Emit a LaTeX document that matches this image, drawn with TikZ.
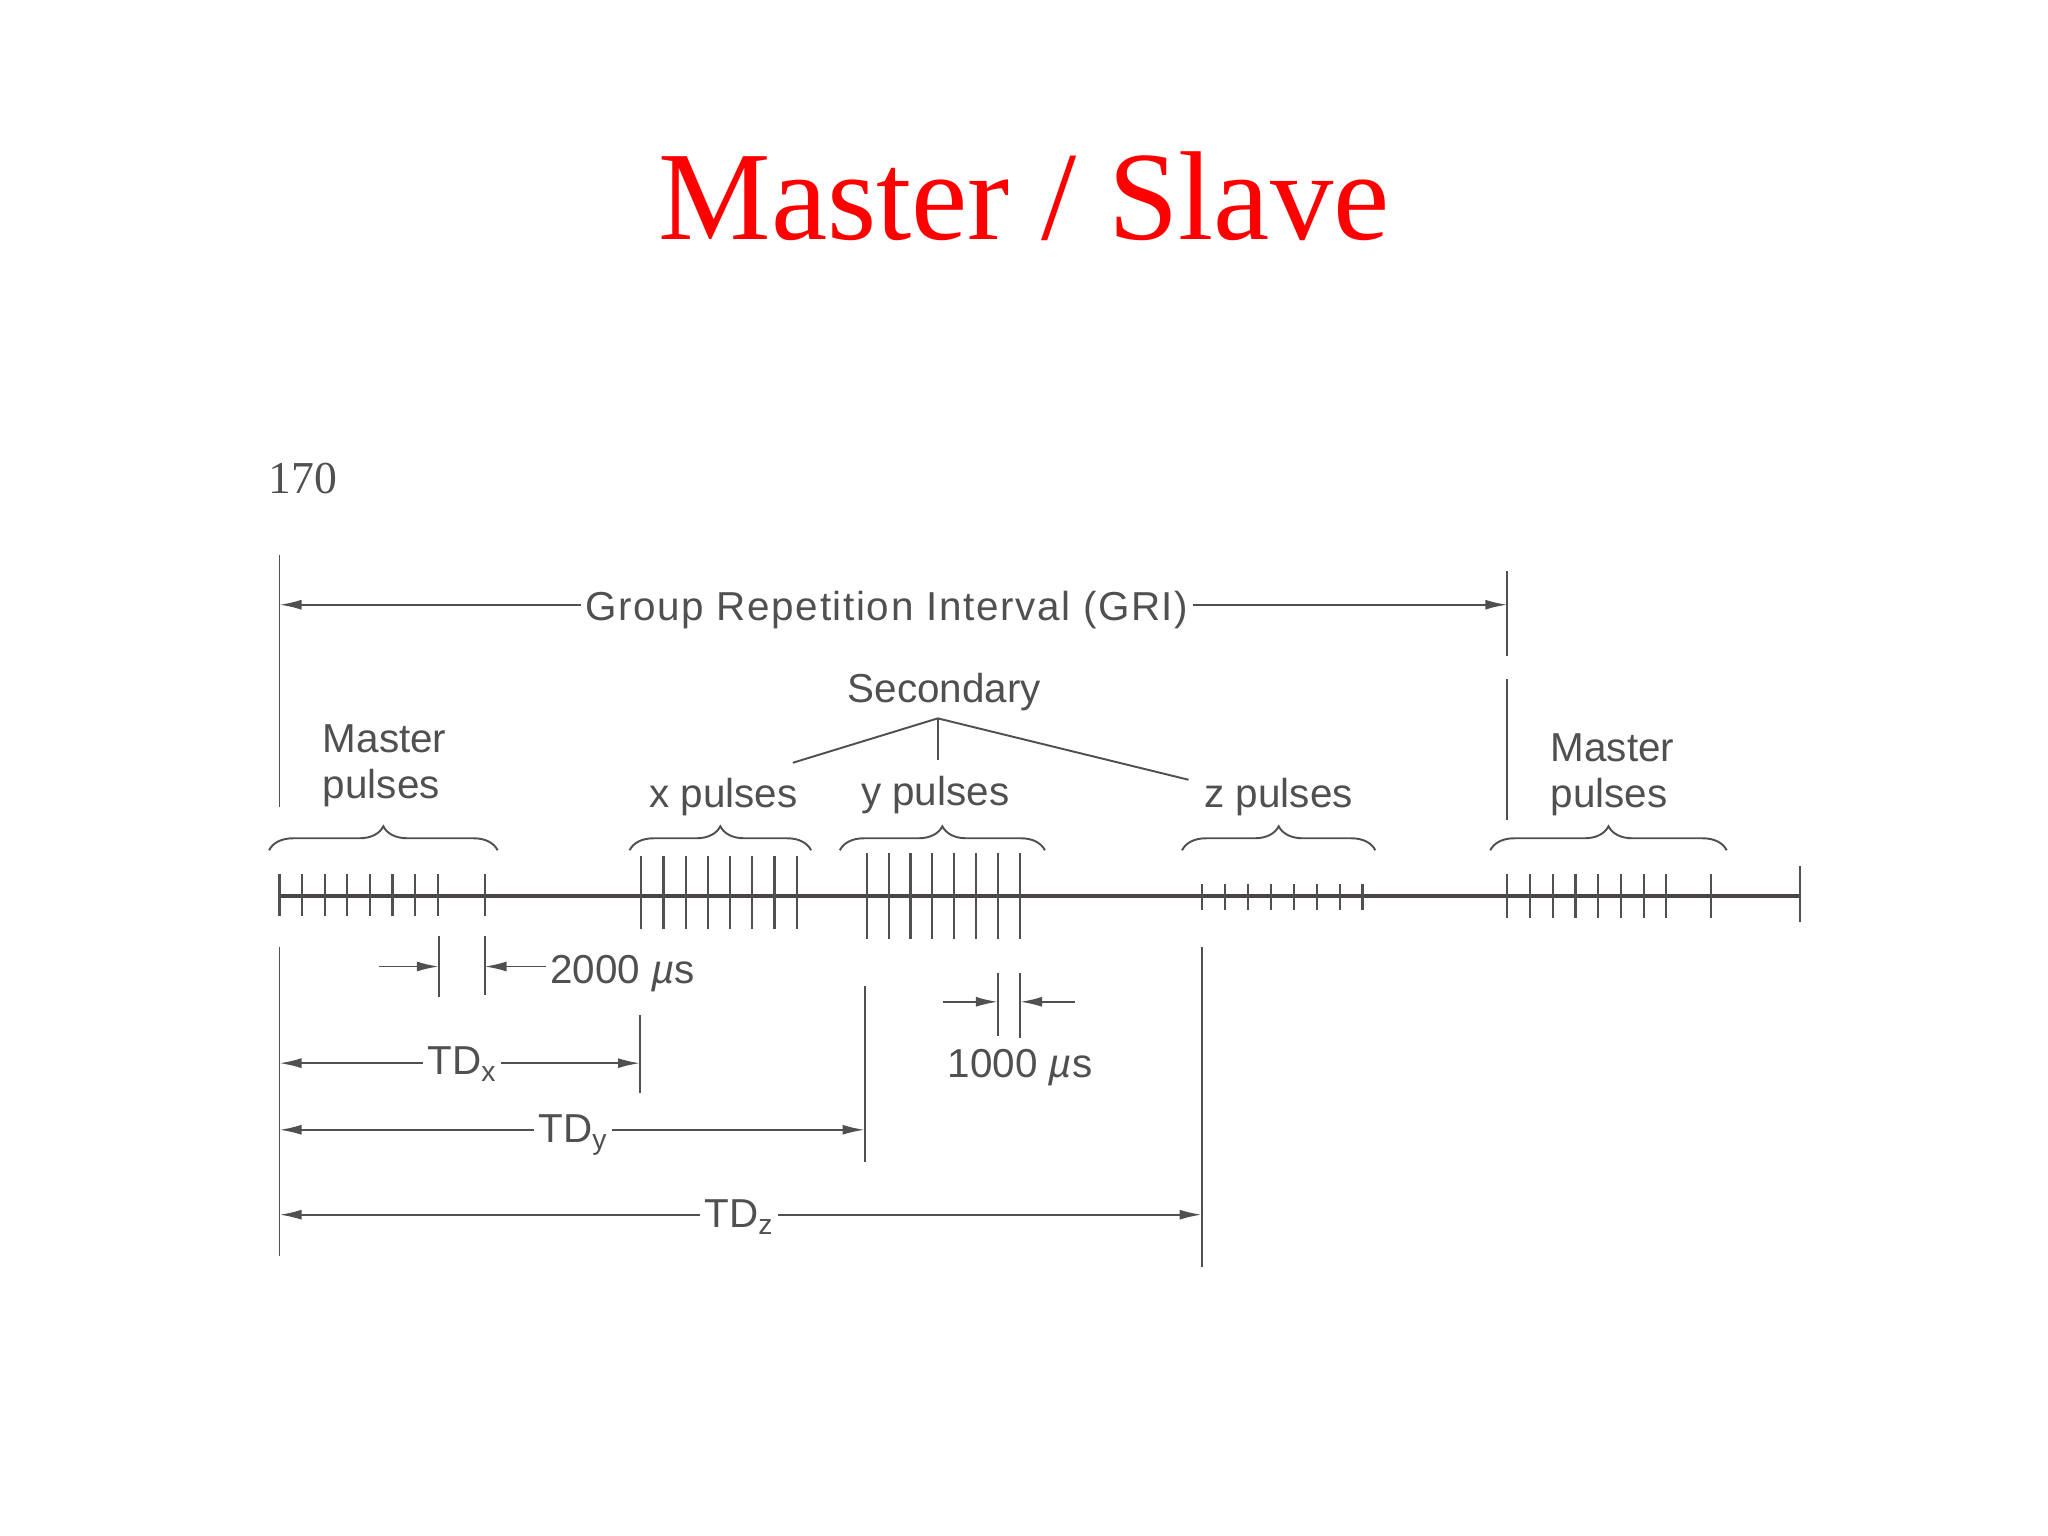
\documentclass[tikz,border=0pt]{standalone}
\usepackage{fontspec}
\setmainfont{Liberation Sans}
\newfontfamily\titlefont{Liberation Serif}
\usepackage{xcolor}
\usepackage{tikz}
\usetikzlibrary{arrows.meta,positioning,calc,decorations.pathreplacing}
\definecolor{ink}{HTML}{505050}
\definecolor{axisink}{HTML}{4A4444}

\begin{document}
\begin{tikzpicture}[x=0.13061mm,y=-0.13061mm,
  lbl/.style={font=\fontsize{11.5}{13}\selectfont,text=ink,inner sep=1pt},
  ln/.style={draw=ink,line width=0.55pt},
  tick/.style={draw=ink,line width=0.6pt},
  dim/.style={ln,-{Latex[length=2.2mm,width=1mm]}},
  brc/.style={ln,decorate,decoration={brace,amplitude=2.4mm}}]
 \useasboundingbox (0,0) rectangle (1568,1176);
 % heading
 \node[font=\titlefont\fontsize{36}{40}\selectfont,text=red,anchor=base] (title) at (784,183) {Master / Slave};
 \node[font=\titlefont\fontsize{13}{15}\selectfont,text=ink,anchor=base] (pg) at (232,378) {170};

 % time axis with the pulse groups
 \coordinate (m0) at (214,686);
 \coordinate (ax1) at (1378,686);
 \draw[line width=1pt,draw=axisink] (m0) -- (ax1);
 \draw[tick] (1378,663) -- (1378,706);
 \foreach \i in {0,...,7} {
   \draw[tick] (214+17.3*\i,669) -- (214+17.3*\i,701);
   \draw[tick] (491+17*\i,655) -- (491+17*\i,711);
   \draw[tick] (663.5+16.8*\i,653) -- (663.5+16.8*\i,719);
   \draw[tick] (920+17.6*\i,677) -- (920+17.6*\i,697);
   \draw[tick] (1154+17.4*\i,669) -- (1154+17.4*\i,703);
 }
 \draw[tick] (371,669) -- (371,701);
 \draw[tick] (1310,669) -- (1310,703);

 % braces and group names
 \draw[brc] (206,651) -- (381,651);
 \draw[brc] (482,651) -- (621,651);
 \draw[brc] (643,651) -- (800,651);
 \draw[brc] (905,651) -- (1053,651);
 \draw[brc] (1141,651) -- (1322,651);
 \node[lbl,align=left,anchor=base west] (mst1) at (244,611) {Master\\pulses};
 \node[lbl,anchor=base] (xp) at (554,618) {x pulses};
 \node[lbl,anchor=base] (yp) at (716,617) {y pulses};
 \node[lbl,anchor=base] (zp) at (979,618) {z pulses};
 \node[lbl,align=left,anchor=base west] (mst2) at (1184,618) {Master\\pulses};

 % secondary
 \node[lbl,anchor=base] (sec) at (723,538) {Secondary};
 \coordinate (sv) at (718,550);
 \coordinate (sx) at (607,584);
 \coordinate (sy) at (718,582);
 \coordinate (sz) at (910,597);
 \draw[ln] (sx) -- (sv) -- (sz);
 \draw[ln] (sv) -- (sy);

 % GRI
 \draw[ln] (214,425) -- (214,618);
 \draw[ln] (1154,437) -- (1154,502);
 \draw[ln] (1154,520) -- (1154,628);
 \coordinate (g0) at (214,463);
 \coordinate (g1) at (1154,463);
 \node[lbl,anchor=base] (gri) at (679,475) {\addfontfeature{LetterSpace=4}Group Repetition Interval (GRI)};
 \draw[dim] (g0 -| gri.west) -- (g0);
 \draw[dim] (g0 -| gri.east) -- (g1);

 % reference lines below the axis
 \draw[ln] (214,725) -- (214,962);
 \draw[ln] (336,717) -- (336,763);
 \draw[ln] (371,717) -- (371,762);
 \draw[ln] (490,777) -- (490,837);
 \draw[ln] (662,755) -- (662,890);
 \draw[ln] (920,725) -- (920,970);
 \draw[ln] (764,745) -- (764,793);
 \draw[ln] (781,745) -- (781,795);

 % pulse spacings
 \coordinate (a2l) at (290,740);
 \coordinate (a2a) at (336,740);
 \coordinate (a2b) at (371,740);
 \node[lbl,anchor=base west] (t2000) at (418,753) {2000 \textit{µ}s};
 \draw[dim] (a2l) -- (a2a);
 \draw[dim] (a2b -| t2000.west) -- (a2b);
 \coordinate (a1l) at (722,767);
 \coordinate (a1a) at (764,767);
 \coordinate (a1b) at (781,767);
 \coordinate (a1r) at (823,767);
 \draw[dim] (a1l) -- (a1a);
 \draw[dim] (a1r) -- (a1b);
 \node[lbl,anchor=base] (t1000) at (781,825) {1000 \textit{µ}s};

 % time differences
 \coordinate (dx0) at (214,814);
 \coordinate (dx1) at (490,814);
 \node[lbl,anchor=base] (tdx) at (354,823) {TD\textsubscript{x}};
 \draw[dim] (dx0 -| tdx.west) -- (dx0);
 \draw[dim] (dx0 -| tdx.east) -- (dx1);
 \coordinate (dy0) at (214,865);
 \coordinate (dy1) at (662,865);
 \node[lbl,anchor=base] (tdy) at (439,875) {TD\textsubscript{y}};
 \draw[dim] (dy0 -| tdy.west) -- (dy0);
 \draw[dim] (dy0 -| tdy.east) -- (dy1);
 \coordinate (dz0) at (214,930);
 \coordinate (dz1) at (920,930);
 \node[lbl,anchor=base] (tdz) at (566,940) {TD\textsubscript{z}};
 \draw[dim] (dz0 -| tdz.west) -- (dz0);
 \draw[dim] (dz0 -| tdz.east) -- (dz1);
\end{tikzpicture}
\end{document}
